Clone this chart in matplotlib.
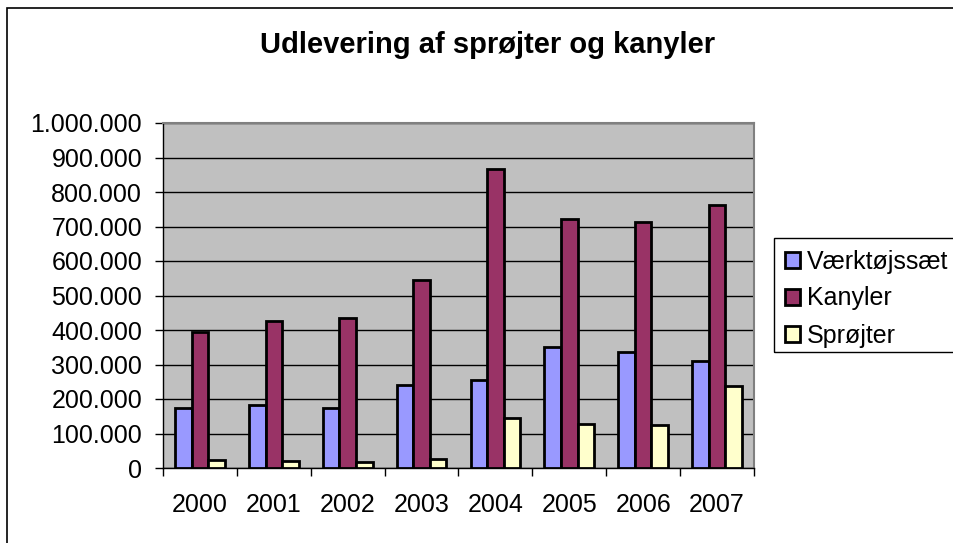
import matplotlib.pyplot as plt
from matplotlib.patches import Rectangle
import numpy as np

plt.rcParams['font.family'] = ['Liberation Sans', 'DejaVu Sans']

years = ['2000', '2001', '2002', '2003', '2004', '2005', '2006', '2007']
vaerktoj = [175000, 183000, 175000, 242000, 256000, 350000, 336000, 311000]
kanyler = [395000, 426000, 436000, 544000, 866000, 723000, 713000, 763000]
sproejter = [22000, 19000, 16000, 27000, 145000, 128000, 125000, 237000]

series = [('Værktøjssæt', vaerktoj, '#9999FF'),
          ('Kanyler', kanyler, '#993366'),
          ('Sprøjter', sproejter, '#FFFFCC')]

fig = plt.figure(figsize=(9.54, 5.43), dpi=100)
# outer chart border
fig.patches.append(Rectangle((7.5/954, -0.1), 1.2, 1 - 7.5/543 + 0.1,
                             transform=fig.transFigure, fill=False,
                             edgecolor='black', linewidth=1.2))

ax = fig.add_axes([163/954, 75/543, 591/954, 345/543])
ax.set_facecolor('#C0C0C0')

x = np.arange(len(years))
w = 0.225
for i, (name, vals, col) in enumerate(series):
    ax.bar(x + (i - 1) * w, vals, w, color=col, edgecolor='black',
           linewidth=2, label=name, zorder=3)

ax.set_xlim(-0.5, len(years) - 0.5)
ax.set_ylim(0, 1000000)
yt = np.arange(0, 1000001, 100000)
ax.set_yticks(yt)
ax.set_yticklabels([f'{v:,}'.replace(',', '.') for v in yt], fontsize=18)
ax.yaxis.grid(True, color='black', linewidth=1, zorder=1)
ax.set_axisbelow(True)

ax.set_xticks(np.arange(-0.5, len(years), 1))
ax.set_xticklabels([])
ax.set_xticks(x, minor=True)
ax.set_xticklabels(years, minor=True, fontsize=18)
ax.tick_params(axis='x', which='major', direction='out', length=6, width=1)
ax.tick_params(axis='x', which='minor', length=0, pad=18)
ax.tick_params(axis='y', direction='out', length=6, width=1, pad=9)

for s in ['top', 'right']:
    ax.spines[s].set_color('#808080')
    ax.spines[s].set_linewidth(1.5)
for s in ['left', 'bottom']:
    ax.spines[s].set_color('black')
    ax.spines[s].set_linewidth(1)

fig.text(488/954, 1 - 45/543, 'Udlevering af sprøjter og kanyler',
         fontsize=21, fontweight='bold', ha='center', va='center')

leg = fig.legend(loc='upper left', bbox_to_anchor=(778/954, 1 - 242/543),
                 fontsize=18, frameon=False,
                 handlelength=0.6, handleheight=0.6, handletextpad=0.25,
                 labelspacing=0.52, borderpad=0.3, borderaxespad=0)
# legend box runs off the right edge like in the original
fig.patches.append(Rectangle((774/954, 1 - 352/543), 0.3, 114/543,
                             transform=fig.transFigure, fill=False,
                             edgecolor='black', linewidth=1))

fig.savefig('out.png', dpi=100)
